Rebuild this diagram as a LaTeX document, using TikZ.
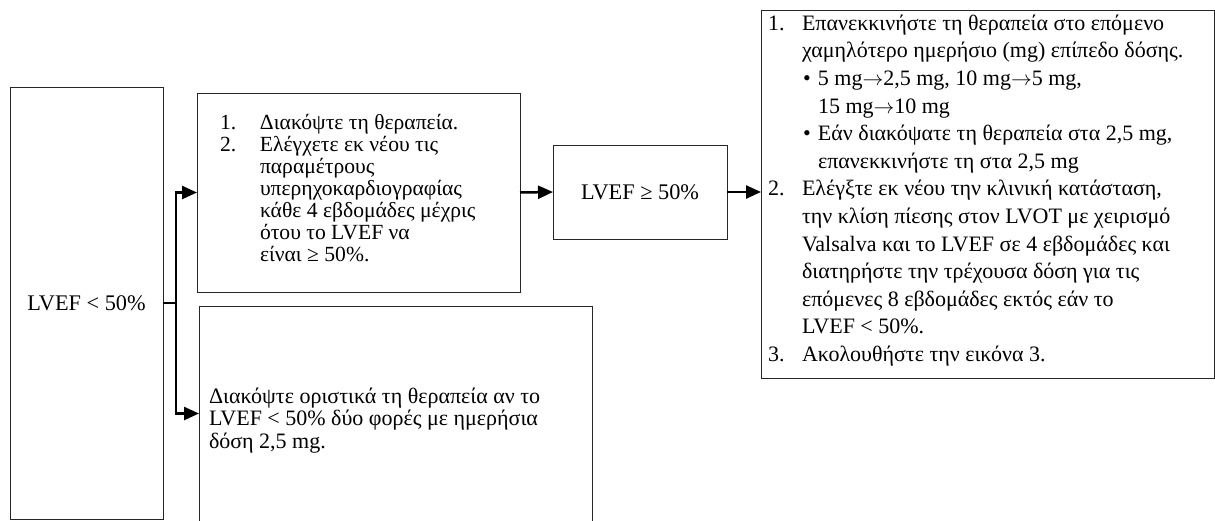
\documentclass[tikz,border=0pt]{standalone}
\usepackage{fontspec}
\setmainfont{Liberation Serif}
\usetikzlibrary{arrows.meta}
\tikzset{
  box/.style={draw=black!85, line width=1pt, inner sep=0pt, outer sep=0pt, anchor=north west, align=center},
  txt/.style={inner sep=0pt, outer sep=0pt, anchor=north west, align=left},
  conn/.style={line width=2.5pt, black},
  arr/.style={conn, -{Triangle[length=15pt,width=13pt]}}
}
\newcommand{\fsm}{\fontsize{22.3}{24}\selectfont}
\newcommand{\fsa}{\fontsize{21.6}{21.9}\selectfont}
\newcommand{\fsb}{\fontsize{22}{22.3}\selectfont}
\newcommand{\fsc}{\fontsize{22}{27.6}\selectfont}
\newcommand{\ra}{\ensuremath{\rightarrow}}
\begin{document}
\begin{tikzpicture}[x=1pt,y=-1pt]
\useasboundingbox (0,0) rectangle (1215,520);
% boxes
\node[box, minimum width=153, minimum height=432, font=\fsm] (b1) at (10,87) {LVEF < 50\%};
\node[box, minimum width=323, minimum height=199] (b2) at (197,93) {};
\node[box, minimum width=393, minimum height=215] (b3) at (199,306) {};
\node[box, minimum width=174, minimum height=94, font=\fsm] (b5) at (553,145) {LVEF ≥ 50\%};
\node[box, minimum width=453, minimum height=368] (b4) at (761,10) {};
% texts
\node[txt, font=\fsa] (t2) at (220,114.5) {%
\strut\makebox[40pt][l]{1.}Διακόψτε τη θεραπεία.\\
\makebox[40pt][l]{2.}Ελέγχετε εκ νέου τις\\
\hspace*{40pt}παραμέτρους\\
\hspace*{40pt}υπερηχοκαρδιογραφίας\\
\hspace*{40pt}κάθε 4 εβδομάδες μέχρις\\
\hspace*{40pt}ότου το LVEF να\\
\hspace*{40pt}είναι ≥ 50\%.};
\node[txt, font=\fsb] (t3) at (209,388) {%
\strut Διακόψτε οριστικά τη θεραπεία αν το\\
LVEF < 50\% δύο φορές με ημερήσια\\
δόση 2,5 mg.};
\node[txt, font=\fsc] (t4) at (768,11) {%
\strut\makebox[34pt][l]{1.}Επανεκκινήστε τη θεραπεία στο επόμενο\\
\hspace*{34pt}χαμηλότερο ημερήσιο (mg) επίπεδο δόσης.\\
\hspace*{35pt}\makebox[15pt][l]{•}5 mg\ra2,5 mg, 10 mg\ra5 mg,\\
\hspace*{50pt}15 mg\ra10 mg\\
\hspace*{35pt}\makebox[15pt][l]{•}Εάν διακόψατε τη θεραπεία στα 2,5 mg,\\
\hspace*{50pt}επανεκκινήστε τη στα 2,5 mg\\
\makebox[34pt][l]{2.}Ελέγξτε εκ νέου την κλινική κατάσταση,\\
\hspace*{34pt}την κλίση πίεσης στον LVOT με χειρισμό\\
\hspace*{34pt}Valsalva και το LVEF σε 4 εβδομάδες και\\
\hspace*{34pt}διατηρήστε την τρέχουσα δόση για τις\\
\hspace*{34pt}επόμενες 8 εβδομάδες εκτός εάν το\\
\hspace*{34pt}LVEF < 50\%.\\
\makebox[34pt][l]{3.}Ακολουθήστε την εικόνα 3.};
% connectors
\coordinate (j) at (176,303);
\draw[conn] (b1.east) -- (j);
\draw[arr] (j) |- (b2.west);
\draw[arr] (j) |- (b3.west);
\draw[arr] (b2.east) -- (b5.west);
\draw[arr] (b5.east) -- (b5.east -| b4.west);
\end{tikzpicture}
\end{document}
